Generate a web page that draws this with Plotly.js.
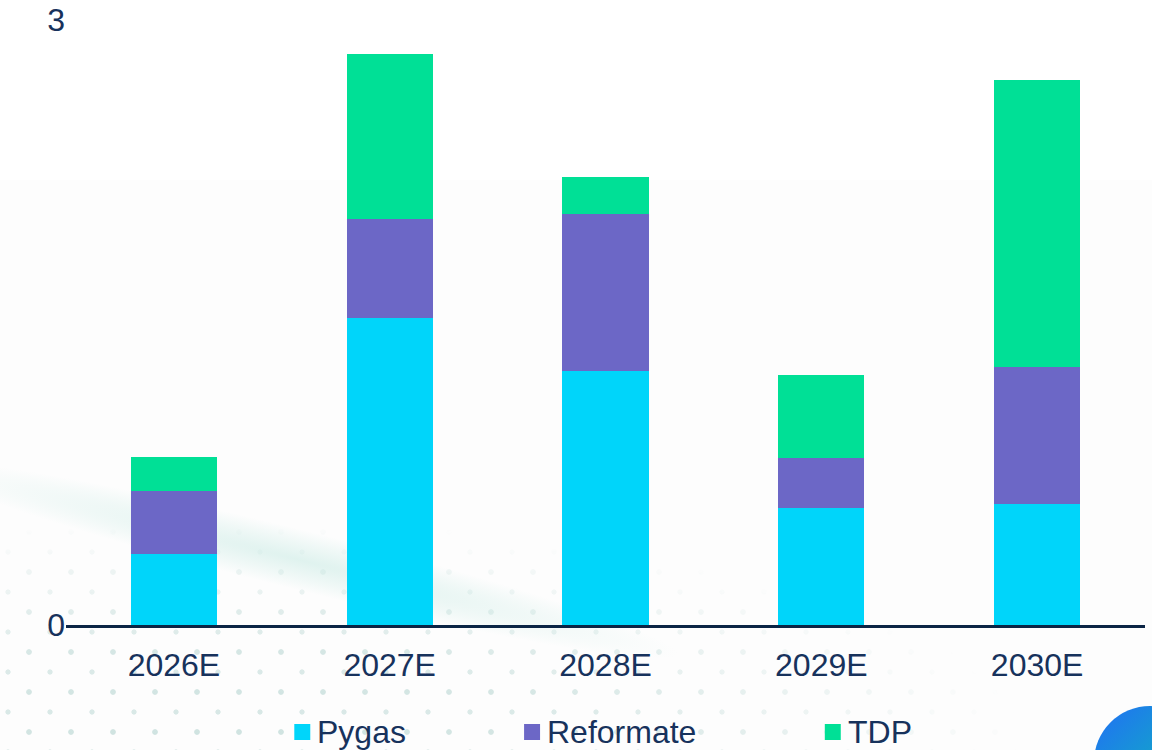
<!DOCTYPE html>
<html>
<head>
<meta charset="utf-8">
<script src="https://cdn.plot.ly/plotly-3.0.1.min.js"></script>
<style>
html,body{margin:0;padding:0;width:1152px;height:750px;overflow:hidden;background:#fff;}
#bg{position:absolute;left:0;top:180px;width:1152px;height:570px;background:#fdfdfd;}
#dots{position:absolute;left:0;top:500px;width:1152px;height:250px;
 background-image:
  radial-gradient(circle,rgba(160,200,195,.5) 0 2.4px,transparent 3.2px),
  radial-gradient(circle,rgba(160,200,195,.42) 0 2.2px,transparent 3px);
 background-size:42px 40px,42px 40px;
 background-position:8px 12px,29px 32px;
 -webkit-mask-image:radial-gradient(ellipse 820px 230px at 210px 250px,#000 0,rgba(0,0,0,.85) 45%,transparent 100%);
 mask-image:radial-gradient(ellipse 820px 230px at 210px 250px,#000 0,rgba(0,0,0,.85) 45%,transparent 100%);}
#wave{position:absolute;left:-90px;top:530px;width:780px;height:60px;transform:rotate(14deg);
 background:radial-gradient(ellipse closest-side,rgba(175,225,215,.38),rgba(175,225,215,.16) 60%,transparent);}
#badge{position:absolute;left:1094px;top:706px;width:112px;height:112px;border-radius:50%;
 background:linear-gradient(135deg,#1f78ee 10%,#12a7c8 60%);}
#chart{position:absolute;left:0;top:0;width:1152px;height:750px;}
</style>
</head>
<body>
<div id="bg"></div><div id="dots"></div><div id="wave"></div><div id="badge"></div>
<div id="chart"></div>
<script>
var categories = ['2026E','2027E','2028E','2029E','2030E'];
var pygas     = [0.352,1.522,1.262,0.580,0.600];
var reformate = [0.312,0.491,0.778,0.248,0.679];
var tdp       = [0.169,0.818,0.183,0.412,1.423];
var seriesNames  = ['Pygas','Reformate','TDP'];
var seriesColors = ['#00d5fa','#6c67c6','#00e096'];
var seriesValues = [pygas,reformate,tdp];
var legendSwatchX = [294,524,825];
var yTicks = [0,3];

var textColor = '#17325c';
var fontFamily = '"Liberation Sans", Arial, sans-serif';

var traces = seriesNames.map(function(n,i){
  return {type:'bar',name:n,x:categories,y:seriesValues[i],
    marker:{color:seriesColors[i],line:{width:0}},showlegend:false,hoverinfo:'x+y+name'};
});

var W=1152,H=750;
var shapes=[],annotations=[];
seriesNames.forEach(function(n,i){
  var x0=legendSwatchX[i];
  shapes.push({type:'rect',xref:'paper',yref:'paper',layer:'above',
    x0:(x0-65.5)/1080,x1:(x0+16-65.5)/1080,
    y0:(625-740)/605,y1:(625-724)/605,
    fillcolor:seriesColors[i],line:{width:0}});
  annotations.push({xref:'paper',yref:'paper',xanchor:'left',yanchor:'middle',showarrow:false,
    x:(x0+22-65.5)/1080,y:(625-732)/605,text:n,borderpad:0,
    font:{family:fontFamily,size:32,color:textColor}});
});

var layout = {
  width:W,height:H,
  margin:{l:65.5,r:6.5,t:20,b:125,pad:0},
  paper_bgcolor:'rgba(0,0,0,0)',plot_bgcolor:'rgba(0,0,0,0)',
  barmode:'stack',bargap:0.6,
  showlegend:false,
  font:{family:fontFamily,size:32,color:textColor},
  xaxis:{type:'category',categoryorder:'array',categoryarray:categories,
    showgrid:false,zeroline:false,showline:true,linecolor:'#0b2545',linewidth:2.5,
    ticks:'',ticklabelstandoff:10,tickfont:{family:fontFamily,size:32,color:textColor}},
  yaxis:{range:[0,3],tickmode:'array',tickvals:yTicks,ticktext:yTicks.map(String),
    showgrid:false,zeroline:false,showline:false,
    ticks:'',ticklabelstandoff:26.5,tickfont:{family:fontFamily,size:32,color:textColor}},
  shapes:shapes,annotations:annotations
};
Plotly.newPlot('chart',traces,layout,{displayModeBar:false,staticPlot:true});
</script>
</body>
</html>
